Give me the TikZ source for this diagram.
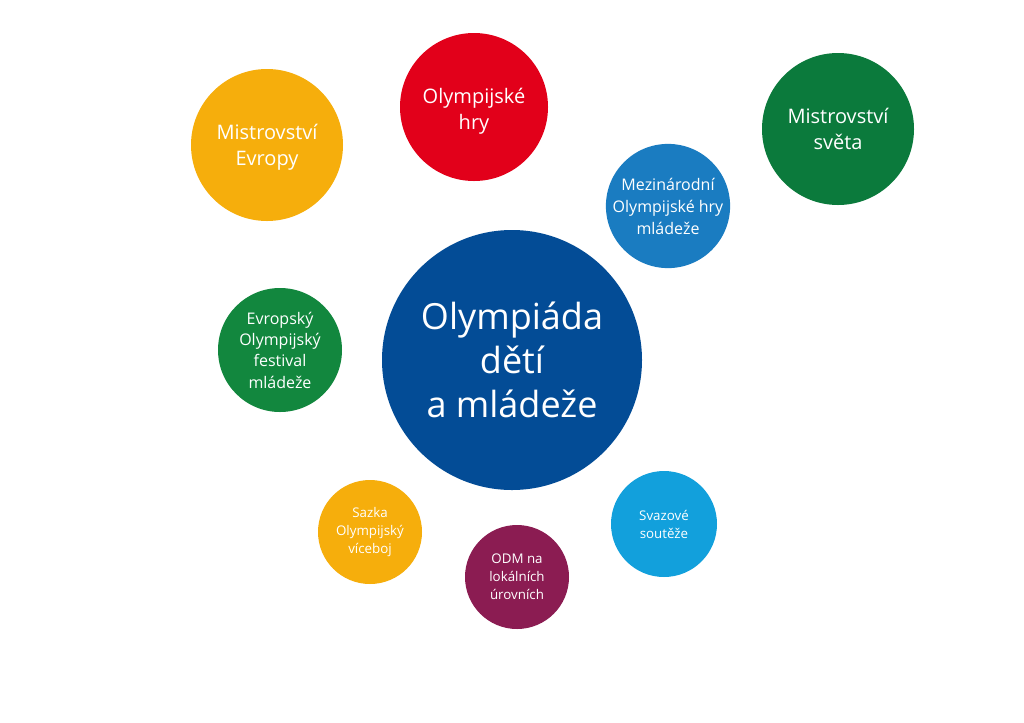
\documentclass[tikz,border=0pt]{standalone}
\usepackage{fontspec}
\setmainfont{Open Sans}
\definecolor{cdark}{HTML}{034C96}
\definecolor{cred}{HTML}{E2001A}
\definecolor{cyel}{HTML}{F6AE0C}
\definecolor{cgreenA}{HTML}{0B7A3C}
\definecolor{cgreenB}{HTML}{12873E}
\definecolor{cmid}{HTML}{1A7CC1}
\definecolor{clight}{HTML}{12A0DC}
\definecolor{cpurp}{HTML}{8B1C52}
\tikzset{
  bubble/.style={circle, inner sep=0pt, text=white, align=center},
  bubbletext/.style={inner sep=0pt, text=white, align=center},
}
\begin{document}
\begin{tikzpicture}[x=0.75pt,y=-0.75pt]
\useasboundingbox (0,0) rectangle (1024,722);
\fill[white] (0,0) rectangle (1024,722);
\node[bubble, fill=cdark, minimum size=260*0.75pt, font=\fontsize{27}{33}\selectfont] (odm) at (512,360) {Olympiáda\\dětí\\a mládeže};
\node[bubble, fill=cred, minimum size=148*0.75pt] (oh) at (474,107) {};
\node[bubbletext, font=\fontsize{15}{19.5}\selectfont] (ohT) at (474,111) {Olympijské\\hry};
\node[bubble, fill=cyel, minimum size=152*0.75pt] (me) at (267,145) {};
\node[bubbletext, font=\fontsize{15}{19.5}\selectfont] (meT) at (267,147) {Mistrovství\\Evropy};
\node[bubble, fill=cgreenA, minimum size=152*0.75pt, font=\fontsize{15}{19.5}\selectfont] (ms) at (838,129) {Mistrovství\\světa};
\node[bubble, fill=cmid, minimum size=124*0.75pt, font=\fontsize{12}{16.5}\selectfont] (mohm) at (668,206) {Mezinárodní\\Olympijské hry\\mládeže};
\node[bubble, fill=cgreenB, minimum size=124*0.75pt, font=\fontsize{12}{16}\selectfont] (eofm) at (280,350) {Evropský\\Olympijský\\festival\\mládeže};
\node[bubble, fill=cyel, minimum size=104*0.75pt, font=\fontsize{10}{13.5}\selectfont] (sov) at (370,532) {Sazka\\Olympijský\\víceboj};
\node[bubble, fill=cpurp, minimum size=104*0.75pt, font=\fontsize{10}{13.5}\selectfont] (lok) at (517,577) {ODM na\\lokálních\\úrovních};
\node[bubble, fill=clight, minimum size=106*0.75pt, font=\fontsize{10}{13.5}\selectfont] (svz) at (664,524) {Svazové\\soutěže};
\end{tikzpicture}
\end{document}
